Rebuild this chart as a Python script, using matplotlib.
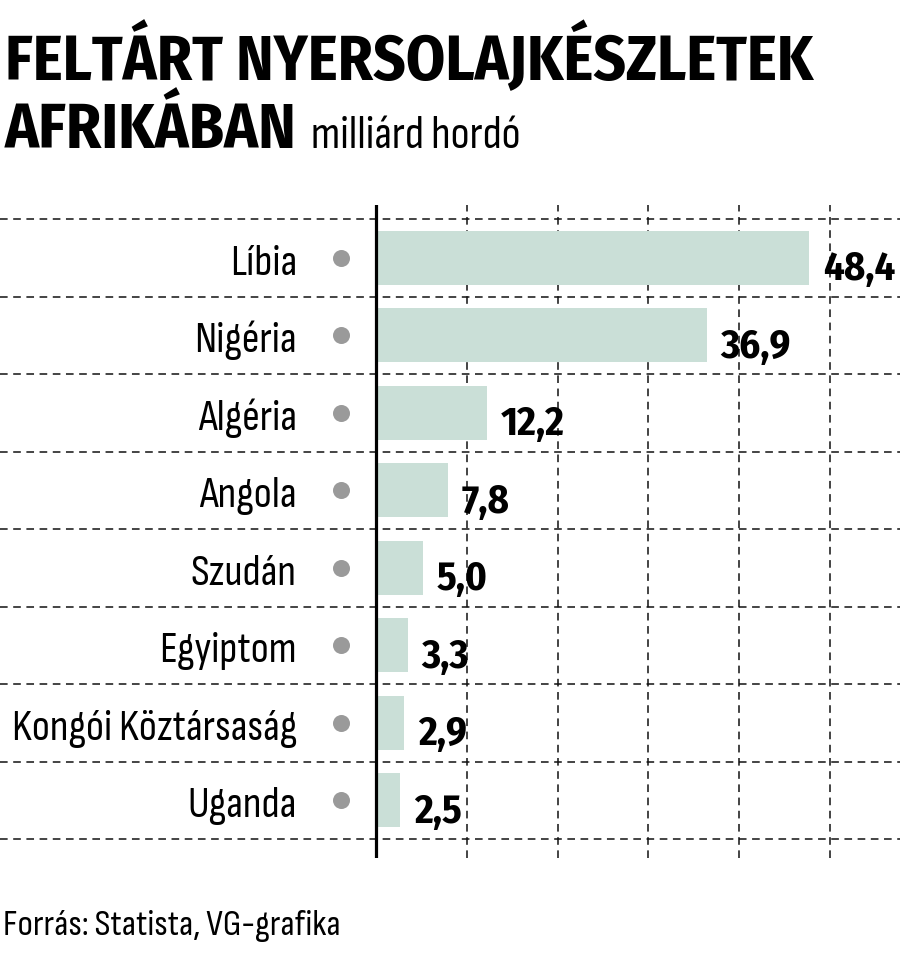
import matplotlib
matplotlib.use('Agg')
import matplotlib.pyplot as plt
from matplotlib import font_manager as fm

# ---- data ----
countries = ['Líbia', 'Nigéria', 'Algéria', 'Angola', 'Szudán', 'Egyiptom',
             'Kongói Köztársaság', 'Uganda']
values = [48.4, 36.9, 12.2, 7.8, 5.0, 3.3, 2.9, 2.5]
value_labels = ['48,4', '36,9', '12,2', '7,8', '5,0', '3,3', '2,9', '2,5']
title_line1 = 'FELTÁRT NYERSOLAJKÉSZLETEK'
title_line2 = 'AFRIKÁBAN'
unit_text = 'milliárd hordó'
source_text = 'Forrás: Statista, VG-grafika'

# ---- font choice: condensed humanist sans ----
fams = {}
for f in fm.fontManager.ttflist:
    fams.setdefault(f.name, set()).add(f.weight if isinstance(f.weight, int) else 400)


def pick(prefs, default='DejaVu Sans', need_bold=True):
    for p in prefs:
        if p in fams and (not need_bold or any(w >= 700 for w in fams[p])):
            return p
    return default


FAMILY = pick(['Fira Sans Condensed', 'PT Sans Narrow', 'Roboto Condensed',
               'Open Sans Condensed', 'Barlow Condensed', 'Liberation Sans Narrow'])
REG = pick(['Sofia Sans Condensed', FAMILY], FAMILY, need_bold=False)

plt.rcParams['font.family'] = [FAMILY, 'DejaVu Sans']
plt.rcParams['lines.scale_dashes'] = False
W, H = 900, 966
BAR_COLOR = '#cadfd7'
DOT_COLOR = '#9a9a9a'
DASH = (0, (5.5, 4.0))

fig = plt.figure(figsize=(W / 100, H / 100), dpi=100)
fig.patch.set_facecolor('white')
renderer = fig.canvas.get_renderer()


def fit_size(text, target_px, weight='normal', family=None, base=30):
    t = fig.text(0, 0, text, fontsize=base, fontweight=weight,
                 family=[family or FAMILY, 'DejaVu Sans'])
    w = t.get_window_extent(renderer).width
    t.remove()
    return base * target_px / w


axis_px = 376
px_per_unit = 8.9
ax_top, ax_bot = 205, 858
first_line = 219
row_px = 77.5
n = len(countries)

ax = fig.add_axes([0, 1 - ax_bot / H, 1, (ax_bot - ax_top) / H])
ax.set_xlim(-axis_px / px_per_unit, (W - axis_px) / px_per_unit)
ytop = 0.5 + (first_line - ax_top) / row_px
ybot = -(n - 1) - 0.5 - (ax_bot - (first_line + n * row_px)) / row_px
ax.set_ylim(ybot, ytop)
ax.axis('off')

ys = [-i for i in range(n)]

# horizontal dashed separators
for i in range(n + 1):
    ax.axhline(0.5 - i, color='#111111', lw=1.1, linestyle=DASH, zorder=1)

# vertical dashed gridlines
grid_step = 10.2
for k in range(1, 6):
    ax.axvline(k * grid_step, color='#111111', lw=1.1, linestyle=DASH, zorder=1)

# bars
ax.barh(ys, values, height=0.7, color=BAR_COLOR, zorder=2, left=0.25)

# axis line
ax.axvline(0, color='black', lw=2.3, zorder=3)

# dots
dot_x = (341 - axis_px) / px_per_unit
ax.scatter([dot_x] * n, ys, s=150, color=DOT_COLOR, zorder=3, linewidths=0)

# labels
label_fs = fit_size('Kongói Köztársaság', 285, family=REG)
label_x = (297 - axis_px) / px_per_unit
for y, name in zip(ys, countries):
    ax.text(label_x, y - 0.22, name, ha='right', va='baseline', fontsize=label_fs,
            color='black', family=[REG, 'DejaVu Sans'])

value_fs = fit_size('48,4', 72, weight='bold')
for y, v, lab in zip(ys, values, value_labels):
    ax.text(v + 16 / px_per_unit, y - 0.29, lab, ha='left', va='baseline',
            fontsize=value_fs, fontweight='bold', color='black')

# title
title_fs = fit_size(title_line1, 807, weight='bold')
fig.text(5 / W, 1 - 80 / H, title_line1, fontsize=title_fs, fontweight='bold',
         va='baseline', ha='left')
t2 = fig.text(5 / W, 1 - 148 / H, title_line2, fontsize=title_fs, fontweight='bold',
              va='baseline', ha='left')
bb = t2.get_window_extent(renderer)
unit_fs = fit_size(unit_text, 210, family=REG)
fig.text((bb.x1 + 14) / W, 1 - 148 / H, unit_text, fontsize=unit_fs,
         va='baseline', ha='left', family=[REG, 'DejaVu Sans'])

source_fs = fit_size(source_text, 337, family=REG)
fig.text(3 / W, 1 - 935 / H, source_text, fontsize=source_fs, va='baseline',
         ha='left', family=[REG, 'DejaVu Sans'])

fig.savefig('out.png', dpi=100)
